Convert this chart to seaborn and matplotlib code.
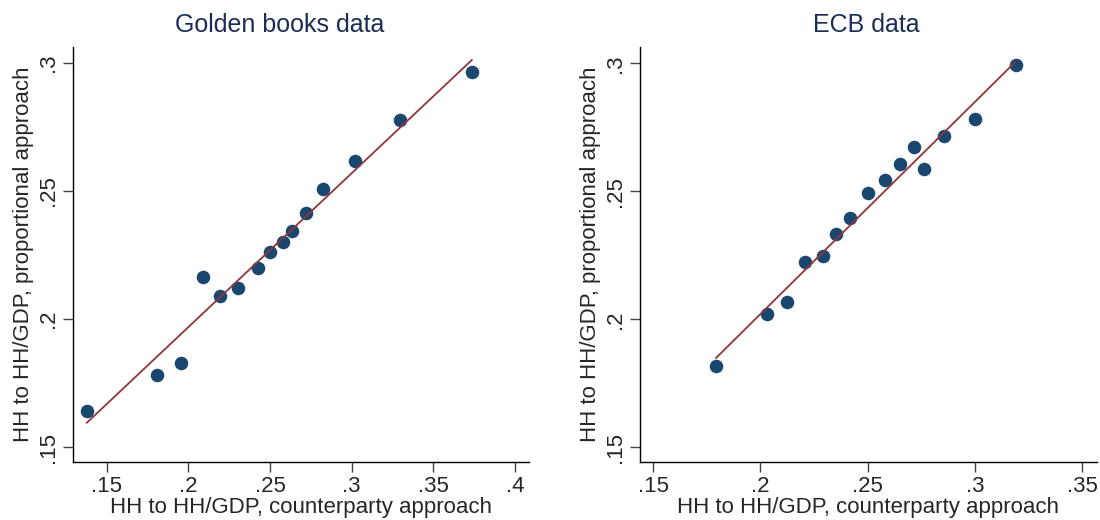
import seaborn as sns
import pandas as pd
import matplotlib.pyplot as plt
from matplotlib.ticker import FuncFormatter

# Golden books data: counterparty vs proportional approach
golden_counterparty = [0.1378, 0.1806, 0.1953, 0.2088, 0.2194, 0.2302, 0.2424, 0.2500,
                       0.2577, 0.2633, 0.2720, 0.2824, 0.3020, 0.3297, 0.3736]
golden_proportional = [0.1643, 0.1783, 0.1829, 0.2165, 0.2090, 0.2121, 0.2198, 0.2262,
                       0.2300, 0.2342, 0.2413, 0.2506, 0.2617, 0.2775, 0.2963]

# ECB data
ecb_counterparty = [0.1792, 0.2030, 0.2123, 0.2208, 0.2291, 0.2352, 0.2418, 0.2501,
                    0.2582, 0.2651, 0.2715, 0.2764, 0.2856, 0.3000, 0.3190]
ecb_proportional = [0.1818, 0.2023, 0.2069, 0.2225, 0.2246, 0.2334, 0.2395, 0.2493,
                    0.2543, 0.2607, 0.2674, 0.2588, 0.2715, 0.2781, 0.2995]

titles = ['Golden books data', 'ECB data']
xlabel = 'HH to HH/GDP, counterparty approach'
ylabel = 'HH to HH/GDP, proportional approach'
golden_xticks = [0.15, 0.2, 0.25, 0.3, 0.35, 0.4]
ecb_xticks = [0.15, 0.2, 0.25, 0.3, 0.35]
yticks = [0.15, 0.2, 0.25, 0.3]

NAVY = '#1a476f'
MAROON = '#90353b'
TITLE_COLOR = '#1c2d55'


def stata_fmt(v, pos):
    s = ('%.2f' % v).rstrip('0').rstrip('.')
    return s.replace('0.', '.', 1)


def draw_panel(ax, x, y, xticks, xlim, ylim):
    df = pd.DataFrame({'x': x, 'y': y})
    sns.regplot(data=df, x='x', y='y', ax=ax, ci=None, truncate=True,
                scatter_kws={'s': 95, 'color': NAVY, 'alpha': 1, 'linewidths': 0},
                line_kws={'color': MAROON, 'lw': 1.3})
    ax.set_xlim(*xlim)
    ax.set_ylim(*ylim)
    ax.set_xticks(xticks)
    ax.set_yticks(yticks)
    ax.xaxis.set_major_formatter(FuncFormatter(stata_fmt))
    ax.yaxis.set_major_formatter(FuncFormatter(stata_fmt))
    ax.set_xlabel(xlabel, fontsize=16, labelpad=0)
    ax.set_ylabel(ylabel, fontsize=16, labelpad=3)
    ax.tick_params(axis='both', bottom=True, left=True, direction='out',
                   length=7, width=1, color='#444444', labelsize=16, pad=3)
    for lab in ax.get_yticklabels():
        lab.set_rotation(90)
        lab.set_va('center')
    sns.despine(ax=ax)
    for side in ['left', 'bottom']:
        ax.spines[side].set_color('black')
        ax.spines[side].set_linewidth(1)


def main():
    sns.set_style('white')
    plt.rcParams['font.family'] = ['Liberation Sans', 'DejaVu Sans']

    fig = plt.figure(figsize=(11, 5.2), dpi=100)
    ax1 = fig.add_axes([0.0661, 0.1115, 0.4151, 0.7987])
    ax2 = fig.add_axes([0.5818, 0.1115, 0.4152, 0.7987])

    draw_panel(ax1, golden_counterparty, golden_proportional, golden_xticks,
               (0.1292, 0.4087), (0.1443, 0.3062))
    draw_panel(ax2, ecb_counterparty, ecb_proportional, ecb_xticks,
               (0.1438, 0.3568), (0.1443, 0.3065))

    fig.text(280 / 1100, 0.952, titles[0], ha='center', va='center',
             fontsize=18, color=TITLE_COLOR)
    fig.text(866 / 1100, 0.952, titles[1], ha='center', va='center',
             fontsize=18, color=TITLE_COLOR)

    fig.savefig('out.png', dpi=100)


if __name__ == '__main__':
    main()
